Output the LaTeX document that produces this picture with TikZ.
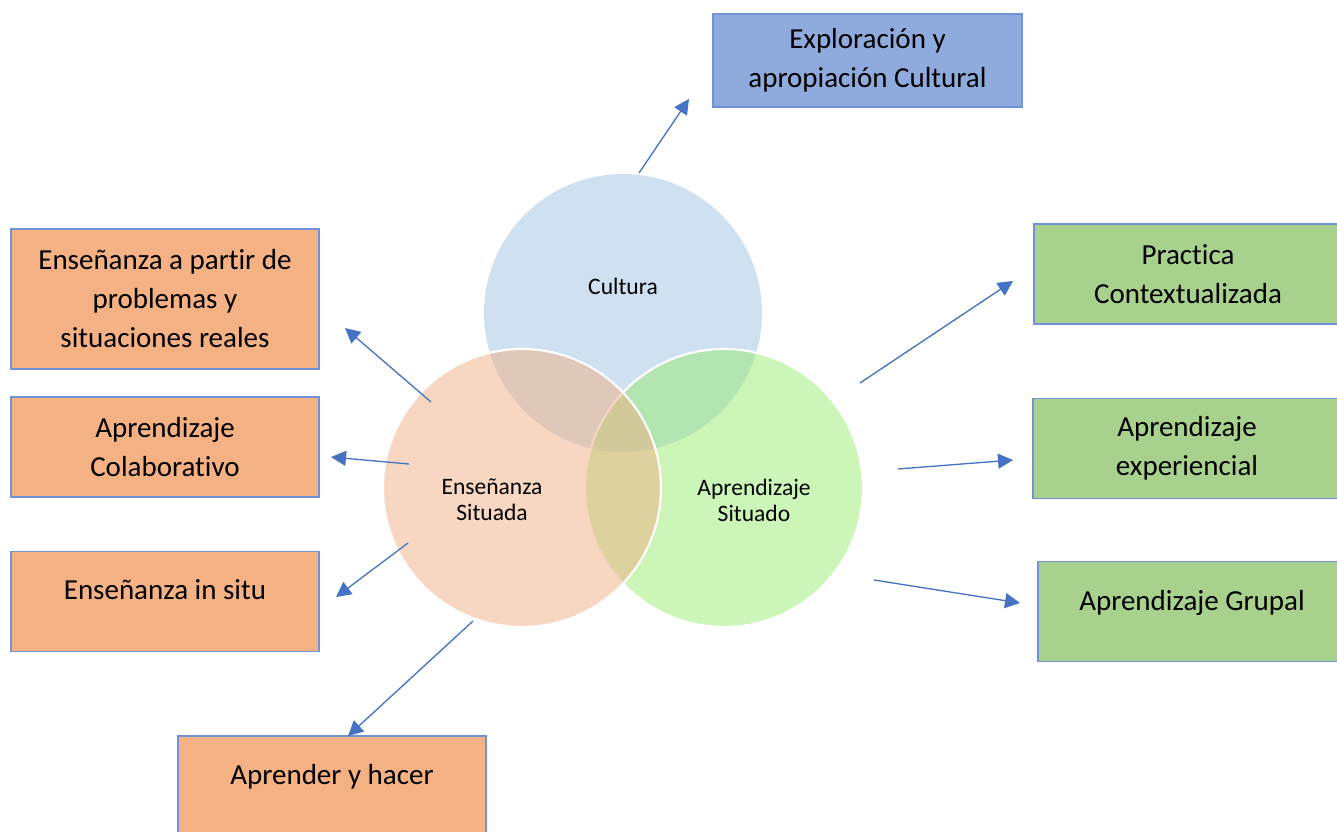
\documentclass[tikz,border=0pt]{standalone}
\usepackage{fontspec}
\setmainfont{Carlito}[Ligatures=NoCommon]
\usetikzlibrary{arrows.meta}

\definecolor{culturaBlue}{HTML}{CFE0F1}
\definecolor{situadoGreen}{RGB}{153,235,113}
\definecolor{situadaOrange}{RGB}{239,175,131}
\definecolor{boxOrange}{HTML}{F4B183}
\definecolor{boxBlue}{HTML}{8FAADC}
\definecolor{boxGreen}{HTML}{A9D18E}
\definecolor{boxBorder}{HTML}{6F93D6}
\definecolor{arrowBlue}{HTML}{4472C4}

\tikzset{
  concept/.style={draw=boxBorder, line width=0.8pt, minimum width=6.16cm,
    minimum height=2cm, inner sep=0pt, align=center,
    font=\fontsize{16.5}{22.2}\selectfont},
  oneline/.style={text depth=0.46cm},
  circletext/.style={align=center, inner sep=0pt,
    font=\fontsize{13.4}{14.8}\selectfont},
  link/.style={arrowBlue, line width=0.75pt,
    -{Triangle[length=0.3cm,width=0.3cm]}}
}

\begin{document}
\begin{tikzpicture}[x=0.02cm, y=-0.02cm]
    \useasboundingbox (0,0) rectangle (1337,831);

    % Cultura circle
    \fill[culturaBlue] (623,313) circle (2.78cm);

    % Aprendizaje Situado circle
    \fill[situadoGreen, fill opacity=0.5] (724,488) circle (2.78cm);
    \draw[white, line width=1.2pt] (724,488) circle (2.78cm);

    % Enseñanza Situada circle
    \fill[situadaOrange, fill opacity=0.5] (522,488) circle (2.78cm);
    \draw[white, line width=1.2pt] (522,488) circle (2.78cm);

    % Circle labels
    \node[circletext] (cultura) at (623,286) {Cultura};
    \node[circletext] (ensenanza) at (492,500) {Enseñanza\\Situada};
    \node[circletext] (aprendizaje) at (754,500) {Aprendizaje\\Situado};

    % Cultura box
    \node[concept, fill=boxBlue, minimum width=6.18cm, minimum height=1.86cm]
      (exploracion) at (867.5,60.5) {Exploración y\\apropiación Cultural};

    % Enseñanza boxes
    \node[concept, fill=boxOrange, minimum height=2.8cm] (problemas) at (165,299)
      {Enseñanza a partir de\\problemas y\\situaciones reales};
    \node[concept, fill=boxOrange] (colaborativo) at (165,447)
      {Aprendizaje\\Colaborativo};
    \node[concept, fill=boxOrange, oneline] (insitu) at (165,601.5)
      {Enseñanza in situ};
    \node[concept, fill=boxOrange, oneline] (hacer) at (332,786)
      {Aprender y hacer};

    % Aprendizaje boxes
    \node[concept, fill=boxGreen] (practica) at (1188,274)
      {Practica\\Contextualizada};
    \node[concept, fill=boxGreen] (experiencial) at (1187,448.5)
      {Aprendizaje\\experiencial};
    \node[concept, fill=boxGreen, oneline] (grupal) at (1192,611.5)
      {Aprendizaje Grupal};

    % Arrow ends
    \coordinate (fromCultura) at (639,173);
    \coordinate (toExploracion) at (689,99);
    \coordinate (fromProblemas) at (431,402);
    \coordinate (toProblemas) at (345,328);
    \coordinate (fromColaborativo) at (409,464);
    \coordinate (toColaborativo) at (331,457);
    \coordinate (fromInsitu) at (408,543);
    \coordinate (toInsitu) at (336,597);
    \coordinate (fromHacer) at (473,621);
    \coordinate (toHacer) at (348,736);
    \coordinate (fromPractica) at (860,383);
    \coordinate (toPractica) at (1013,281);
    \coordinate (fromExperiencial) at (898,469);
    \coordinate (toExperiencial) at (1013,460);
    \coordinate (fromGrupal) at (874,580);
    \coordinate (toGrupal) at (1020,603);

    % Arrows
    \draw[link] (fromCultura) -- (toExploracion);
    \draw[link] (fromProblemas) -- (toProblemas);
    \draw[link] (fromColaborativo) -- (toColaborativo);
    \draw[link] (fromInsitu) -- (toInsitu);
    \draw[link] (fromHacer) -- (toHacer);
    \draw[link] (fromPractica) -- (toPractica);
    \draw[link] (fromExperiencial) -- (toExperiencial);
    \draw[link] (fromGrupal) -- (toGrupal);

\end{tikzpicture}
\end{document}
